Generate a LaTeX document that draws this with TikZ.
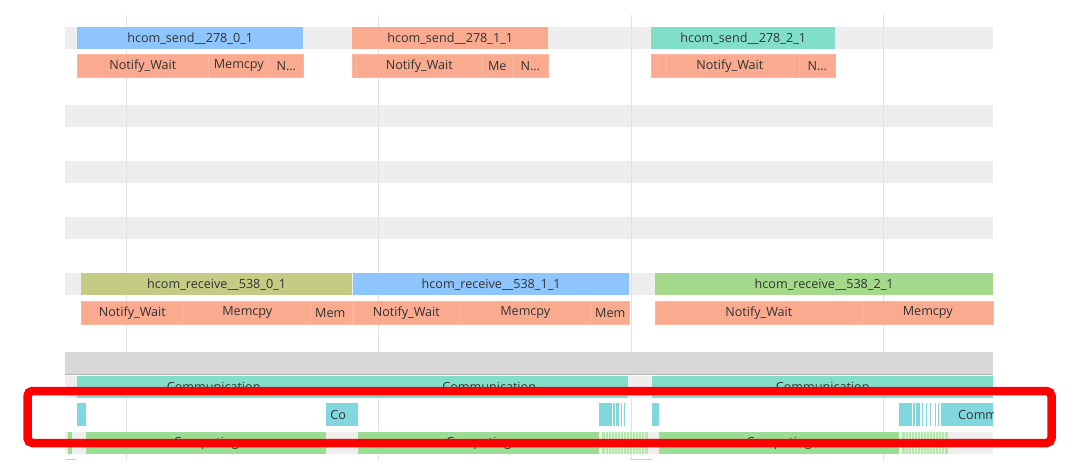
\documentclass[tikz,border=0pt]{standalone}
\usepackage{fontspec}
\setmainfont{Open Sans}
\usepackage{xcolor}
\definecolor{sendblue}{HTML}{8EC5FC}
\definecolor{salmon}{HTML}{F9AA8F}
\definecolor{sendteal}{HTML}{80DECB}
\definecolor{olive}{HTML}{C4CB85}
\definecolor{recvgreen}{HTML}{A4D98B}
\definecolor{commteal}{HTML}{80DECB}
\definecolor{taskcyan}{HTML}{80D8DE}
\definecolor{compgreen}{HTML}{9CDD96}
\definecolor{lightgreen}{HTML}{B4E6AE}
\definecolor{bandgrey}{HTML}{EEEEEE}
\definecolor{darkband}{HTML}{D8D8D8}
\definecolor{gridgrey}{HTML}{E2E2E2}
\definecolor{textgrey}{HTML}{333333}
\definecolor{markblue}{HTML}{B8D4F0}
\tikzstyle{slice} = [rectangle, anchor=north west, inner sep=0pt, minimum height=22, text=textgrey, font=\fontsize{12.6}{14}\selectfont]
\tikzstyle{seg} = [slice, fill=salmon, draw=salmon!85!white, line width=0.6pt, minimum height=23]
\tikzstyle{band} = [fill=bandgrey]
\tikzstyle{grid} = [draw=gridgrey, line width=1pt]
\tikzstyle{frame} = [draw=red, line width=8.5pt, rounded corners=5pt]

\begin{document}
\begin{tikzpicture}[x=1pt, y=-1pt]
    \useasboundingbox[fill=white] (0,0) rectangle (1080,471);

    \foreach \y in {27,105,161,217,273} {
        \fill[band] (65,\y) rectangle (993,\y+22);
    }
    \foreach \x in {126,378,631,883} {
        \draw[grid] (\x,15) -- (\x,460);
    }

    \node (send0) [slice, fill=sendblue, minimum width=226] at (77,27) {hcom\_send\_\_278\_0\_1};
    \node (send1) [slice, fill=salmon, minimum width=196] at (352,27) {hcom\_send\_\_278\_1\_1};
    \node (send2) [slice, fill=sendteal, minimum width=184] at (651,27) {hcom\_send\_\_278\_2\_1};

    \node (wait0) [seg, minimum width=131] at (77,54) {Notify\_Wait};
    \node (copy0) [seg, minimum width=61] at (208,54) {Memcpy};
    \node (note0) [seg, minimum width=34] at (269,54) {N...};

    \node (gap1) [seg, minimum width=4] at (352,54) {};
    \node (wait1) [seg, minimum width=126] at (356,54) {Notify\_Wait};
    \node (copy1) [seg, minimum width=30] at (482,54) {Me};
    \node (note1) [seg, minimum width=36] at (512,54) {N...};

    \node (gapa2) [seg, minimum width=6] at (651,54) {};
    \node (gapb2) [seg, minimum width=9] at (657,54) {};
    \node (wait2) [seg, minimum width=127] at (666,54) {Notify\_Wait};
    \node (gapc2) [seg, minimum width=6] at (793,54) {};
    \node (note2) [seg, minimum width=36] at (799,54) {N...};

    \node (recv0) [slice, fill=olive, minimum width=271] at (81,273) {hcom\_receive\_\_538\_0\_1};
    \node (recv1) [slice, fill=sendblue, minimum width=276] at (353,273) {hcom\_receive\_\_538\_1\_1};
    \node (recv2) [slice, fill=recvgreen, minimum width=338] at (655,273) {hcom\_receive\_\_538\_2\_1};

    \node (rwait0) [seg, minimum width=102] at (81,301) {Notify\_Wait};
    \node (rcopy0) [seg, minimum width=128] at (183,301) {Memcpy};
    \node (rmem0) [seg, minimum width=38] at (311,301) {Mem};
    \node (rgap0) [seg, minimum width=3] at (349,301) {};
    \node (rwait1) [seg, minimum width=106] at (353,301) {Notify\_Wait};
    \node (rcopy1) [seg, minimum width=132] at (459,301) {Memcpy};
    \node (rmem1) [seg, minimum width=38] at (591,301) {Mem};
    \node (rwait2) [seg, minimum width=207] at (655,301) {Notify\_Wait};
    \node (rcopy2) [seg, minimum width=131] at (862,301) {Memcpy};

    \fill[darkband] (65,352) rectangle (993,374);
    \draw[draw=black!30, line width=1pt] (65,374) -- (993,374);
    \fill[band] (65,376) rectangle (993,398);
    \fill[band] (65,432) rectangle (993,454);

    \node (comm0) [slice, fill=commteal, minimum width=273] at (77,376) {Communication};
    \node (comm1) [slice, fill=commteal, minimum width=278] at (350,376) {Communication};
    \node (comm2) [slice, fill=commteal, minimum width=341] at (652,376) {Communication};

    \node (task0) [slice, fill=taskcyan, minimum width=9, minimum height=23] at (77,403) {};
    \node (task1) [slice, fill=taskcyan, minimum width=24, minimum height=23] at (326,403) {Co};
    \node (task2) [slice, fill=taskcyan, minimum width=8, minimum height=23] at (350,403) {};
    \foreach \a/\b in {599/612,613/615,616/619,621/622,624/625} {
        \fill[taskcyan] (\a,403) rectangle (\b,426);
    }
    \node (task3) [slice, fill=taskcyan, minimum width=7, minimum height=23] at (652,403) {};
    \foreach \a/\b in {899/912,913/915,916/920,922/923,926/927,930/931,935/936,938/939} {
        \fill[taskcyan] (\a,403) rectangle (\b,426);
    }
    \begin{scope}
        \clip (941,400) rectangle (993,430);
        \node (task4) [slice, fill=taskcyan, minimum width=52, minimum height=23] at (941,403) {};
        \node (task4text) [slice, anchor=west] at (958,414.5) {Communication};
    \end{scope}

    \node (calc0) [slice, fill=compgreen, minimum width=4] at (68,432) {};
    \node (calc1) [slice, fill=compgreen, minimum width=240] at (86,432) {Computing};
    \node (calc2) [slice, fill=compgreen, minimum width=241] at (358,432) {Computing};
    \node (calc3) [slice, fill=compgreen, minimum width=240] at (659,432) {Computing};
    \fill[lightgreen] (602,432) rectangle (648,454);
    \fill[lightgreen] (902,432) rectangle (948,454);
    \foreach \x in {605,608,...,646} {
        \draw[white, opacity=0.6, line width=0.5pt] (\x,432) -- (\x,454);
    }
    \foreach \x in {905,908,...,946} {
        \draw[white, opacity=0.6, line width=0.5pt] (\x,432) -- (\x,454);
    }

    \draw[draw=markblue, line width=1pt] (66,459) -- (76,459);
    \draw[draw=markblue, line width=1pt] (630,459) -- (652,459);

    \draw[frame] (27.5,391) rectangle (1051.5,443);
\end{tikzpicture}
\end{document}
